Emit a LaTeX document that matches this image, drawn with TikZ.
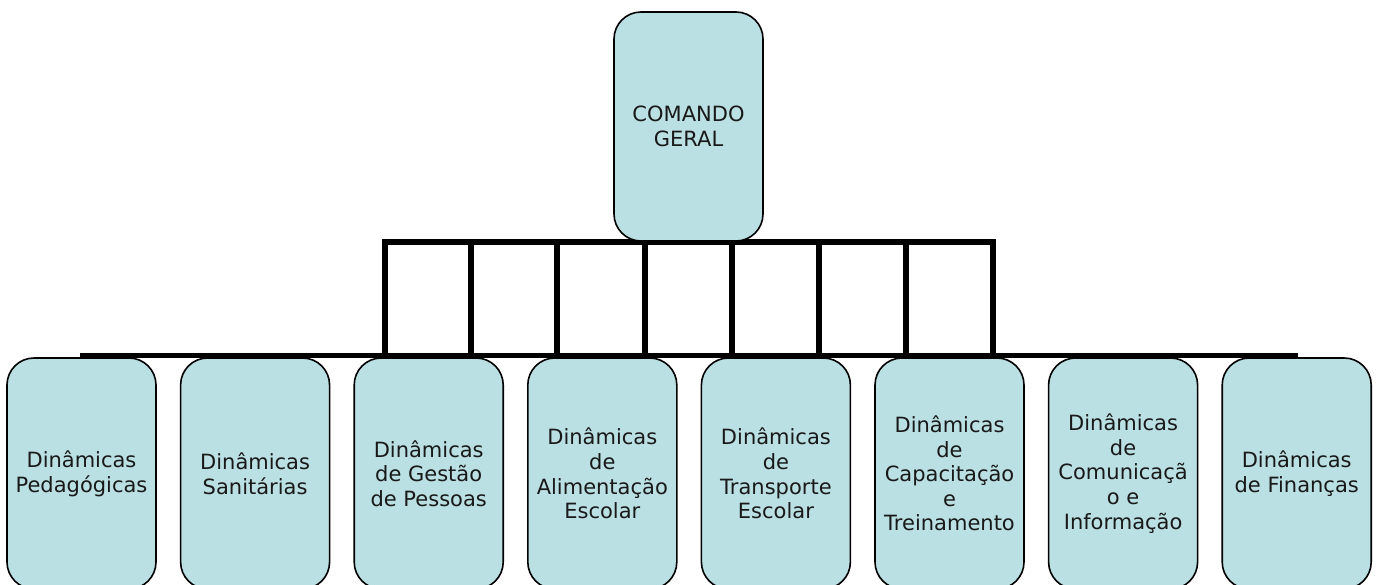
\documentclass[tikz,border=0pt]{standalone}
\usepackage{fontspec}
\setmainfont{DejaVu Sans}
\definecolor{boxfill}{RGB}{186,224,227}
\begin{document}
\begin{tikzpicture}[x=1pt,y=-1pt,
  unit/.style={draw=black, line width=1.6pt, fill=boxfill, rounded corners=27pt,
    minimum width=149pt, inner sep=0pt, align=center,
    font=\fontsize{21}{24.6}\selectfont, text=black!90},
  bus/.style={line width=6pt, line join=miter}]
\useasboundingbox (0,0) rectangle (1381,584);
\clip (0,0) rectangle (1381,584);
% bus coordinates
\foreach \i/\x in {1/385,2/471,3/557,4/645,5/732,6/819,7/906,8/993}{
  \coordinate (vt\i) at (\x,242);
  \coordinate (vb\i) at (\x,355.5);
}
\coordinate (bl) at (80,355.5);
\coordinate (br) at (1298,355.5);
\draw[bus] (vb1) -- (vt1) -- (vt8) -- (vb8);
\foreach \i in {2,...,7}{ \draw[bus] (vt\i) -- (vb\i); }
\draw[bus, line width=5pt] (bl) -- (br);
% nodes
\node[unit, minimum height=229pt] (cmd) at (688.5,126.5) {COMANDO\\GERAL};
\node[unit, minimum height=231pt] (d1) at (81.5,473.5) {Dinâmicas\\Pedagógicas};
\node[unit, minimum height=231pt] (d2) at (255.1,473.5) {Dinâmicas\\Sanitárias};
\node[unit, minimum height=231pt] (d3) at (428.7,473.5) {Dinâmicas\\de Gestão\\de Pessoas};
\node[unit, minimum height=231pt] (d4) at (602.3,473.5) {Dinâmicas\\de\\Alimentação\\Escolar};
\node[unit, minimum height=231pt] (d5) at (775.9,473.5) {Dinâmicas\\de\\Transporte\\Escolar};
\node[unit, minimum height=231pt] (d6) at (949.5,473.5) {Dinâmicas\\de\\Capacitação\\e\\Treinamento};
\node[unit, minimum height=231pt] (d7) at (1123.1,473.5) {Dinâmicas\\de\\Comunicaçã\\o e\\Informação};
\node[unit, minimum height=231pt] (d8) at (1296.7,473.5) {Dinâmicas\\de Finanças};
\end{tikzpicture}
\end{document}
